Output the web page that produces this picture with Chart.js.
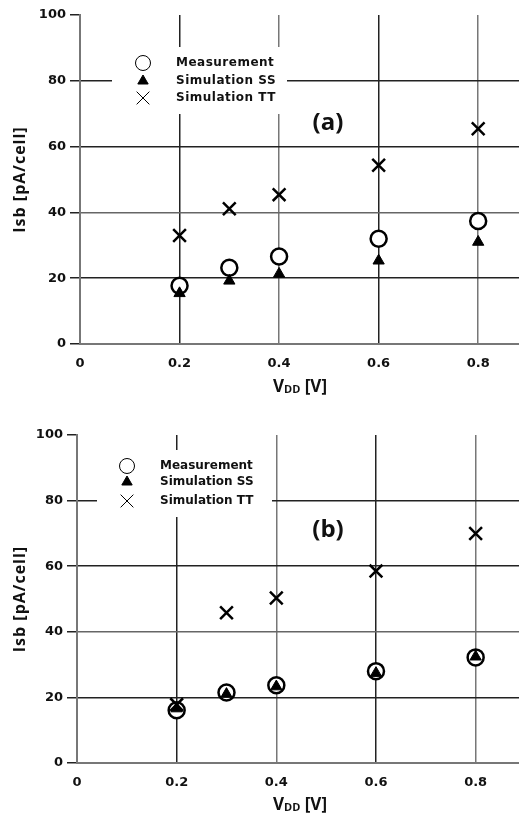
<!DOCTYPE html>
<html>
<head>
<meta charset="utf-8">
<script src="https://cdn.jsdelivr.net/npm/chart.js@4"></script>
<style>
  html, body { margin: 0; padding: 0; background: #fff; }
  .panel { position: relative; width: 519px; height: 408px; }
  canvas { display: block; }
</style>
</head>
<body>
<div class="panel"><canvas id="chart-a" width="519" height="408"></canvas></div>
<div class="panel"><canvas id="chart-b" width="519" height="408"></canvas></div>
<script>
// data
const vdd = [0.2, 0.3, 0.4, 0.6, 0.8];
const measA = [17.7, 23.2, 26.6, 32.0, 37.4];
const ssA = [15.4, 19.2, 21.3, 25.3, 31.0];
const ttA = [33.0, 41.1, 45.4, 54.3, 65.4];
const measB = [16.1, 21.5, 23.7, 28.0, 32.2];
const ssB = [16.6, 21.0, 23.3, 27.4, 32.4];
const ttB = [17.8, 45.8, 50.3, 58.5, 70.0];
const xTicks = [0, 0.2, 0.4, 0.6, 0.8];
const yTicks = [0, 20, 40, 60, 80, 100];
const seriesNames = ['Measurement', 'Simulation SS', 'Simulation TT'];

const tickFont = { family: 'DejaVu Sans', size: 13, weight: 'bold' };

function toPoints(values) {
    return vdd.map((v, i) => ({ x: v, y: values[i] }));
}

// white box with markers + names, drawn over the grid
const legendBox = {
    id: 'legendBox',
    beforeDatasetsDraw(chart, args, opts) {
        const ctx = chart.ctx;
        ctx.save();
        ctx.fillStyle = '#fff';
        ctx.fillRect(opts.box[0], opts.box[1], opts.box[2], opts.box[3]);
        const styles = [
            { pointStyle: 'circle', radius: 7.5, borderWidth: 1, backgroundColor: '#fff' },
            { pointStyle: 'triangle', radius: 6, borderWidth: 1, backgroundColor: '#000' },
            { pointStyle: 'crossRot', radius: 9, borderWidth: 1, backgroundColor: '#000' }
        ];
        ctx.font = 'bold 12px "DejaVu Sans"';
        ctx.letterSpacing = opts.spacing;
        ctx.textBaseline = 'middle';
        ctx.textAlign = 'left';
        seriesNames.forEach((name, i) => {
            const y = opts.rows[i];
            ctx.strokeStyle = '#000';
            ctx.fillStyle = styles[i].backgroundColor;
            ctx.lineWidth = styles[i].borderWidth;
            Chart.helpers.drawPoint(ctx, styles[i], opts.markerX, y);
            ctx.fillStyle = '#111';
            ctx.fillText(name, opts.textX, y);
        });
        ctx.restore();
    }
};

// axis titles and the panel letter
const panelText = {
    id: 'panelText',
    afterDraw(chart, args, opts) {
        const ctx = chart.ctx;
        const area = chart.chartArea;
        ctx.save();
        ctx.fillStyle = '#111';

        // y title, rotated
        ctx.save();
        ctx.translate(20, (area.top + area.bottom) / 2);
        ctx.rotate(-Math.PI / 2);
        ctx.font = 'bold 16px "Open Sans"';
        ctx.letterSpacing = '1px';
        ctx.textAlign = 'center';
        ctx.textBaseline = 'middle';
        ctx.fillText('Isb [pA/cell]', 0, 0);
        ctx.restore();

        // x title with subscript
        ctx.textBaseline = 'alphabetic';
        ctx.textAlign = 'left';
        const big = 'bold 17px "Open Sans"';
        const small = 'bold 11px "Open Sans"';
        ctx.font = big; const wV = ctx.measureText('V').width;
        ctx.font = small; const wDD = ctx.measureText('DD').width;
        ctx.font = big; const wRest = ctx.measureText(' [V]').width;
        let x = 300 - (wV + wDD + wRest) / 2;
        const yb = opts.xTitleY;
        ctx.font = big; ctx.fillText('V', x, yb); x += wV;
        ctx.font = small; ctx.fillText('DD', x, yb + 1); x += wDD;
        ctx.font = big; ctx.fillText(' [V]', x, yb);

        // panel letter
        ctx.font = 'bold 24px "Open Sans"';
        ctx.textAlign = 'center';
        ctx.textBaseline = 'middle';
        ctx.fillText(opts.letter, opts.letterX, opts.letterY);
        ctx.restore();
    }
};

function makeChart(id, meas, ss, tt, cfg) {
    new Chart(document.getElementById(id), {
        type: 'scatter',
        data: {
            datasets: [{
                label: seriesNames[0],
                data: toPoints(meas),
                pointStyle: 'circle',
                pointRadius: 8,
                borderWidth: 2.5,
                borderColor: '#000',
                backgroundColor: '#fff',
                order: 3
            }, {
                label: seriesNames[1],
                data: toPoints(ss),
                pointStyle: 'triangle',
                pointRadius: 6.5,
                borderWidth: 1,
                borderColor: '#000',
                backgroundColor: '#000',
                order: 2
            }, {
                label: seriesNames[2],
                data: toPoints(tt),
                pointStyle: 'crossRot',
                pointRadius: 9,
                borderWidth: 2.5,
                borderColor: '#000',
                backgroundColor: '#000',
                order: 1
            }]
        },
        options: {
            responsive: false,
            animation: false,
            layout: { autoPadding: false, padding: { top: cfg.top, left: 0, right: 0, bottom: 0 } },
            plugins: {
                legend: { display: false },
                tooltip: { enabled: false },
                legendBox: cfg.legend,
                panelText: { letter: cfg.letter, letterX: 328, letterY: cfg.letterY, xTitleY: cfg.xTitleY }
            },
            scales: {
                x: {
                    type: 'linear',
                    min: 0,
                    max: cfg.xMax,
                    afterBuildTicks: (scale) => { scale.ticks = xTicks.map(v => ({ value: v })); },
                    afterFit: (scale) => {
                        scale.height = cfg.xHeight;
                        scale.paddingLeft = 0;
                        scale.paddingRight = 0;
                    },
                    border: { color: '#777', width: 2 },
                    grid: {
                        drawTicks: false,
                        color: (c) => c.tick.value === 0 ? 'rgba(0,0,0,0)' : (c.index % 2 === 1 ? '#222' : '#777'),
                        lineWidth: 1.5
                    },
                    ticks: {
                        color: '#111',
                        font: tickFont,
                        padding: 12,
                        callback: (v) => v === 0 ? '0' : v.toFixed(1)
                    }
                },
                y: {
                    min: 0,
                    max: 100,
                    afterBuildTicks: (scale) => { scale.ticks = yTicks.map(v => ({ value: v })); },
                    afterFit: (scale) => { scale.width = cfg.yWidth; },
                    border: { color: '#777', width: 2 },
                    grid: {
                        tickLength: 10,
                        tickColor: '#222',
                        tickWidth: 1.5,
                        color: (c) => (c.tick.value === 0 || c.tick.value === 100) ? 'rgba(0,0,0,0)' : (c.tick.value === 40 ? '#666' : '#222'),
                        lineWidth: 1.5
                    },
                    ticks: {
                        color: '#111',
                        font: tickFont,
                        padding: 4
                    }
                }
            }
        },
        plugins: [legendBox, panelText]
    });
}

makeChart('chart-a', measA, ssA, ttA, {
    top: 15, yWidth: 80, xHeight: 64, xMax: 0.882, letter: '(a)', letterY: 123, xTitleY: 392,
    legend: { box: [112, 47, 175, 67], markerX: 143, textX: 176, rows: [63, 81, 98], spacing: '0.5px' }
});

makeChart('chart-b', measB, ssB, ttB, {
    top: 27, yWidth: 77, xHeight: 53, xMax: 0.887, letter: '(b)', letterY: 122, xTitleY: 402,
    legend: { box: [97, 42, 175, 67], markerX: 127, textX: 160, rows: [58, 74, 93], spacing: '0px' }
});
</script>
</body>
</html>
